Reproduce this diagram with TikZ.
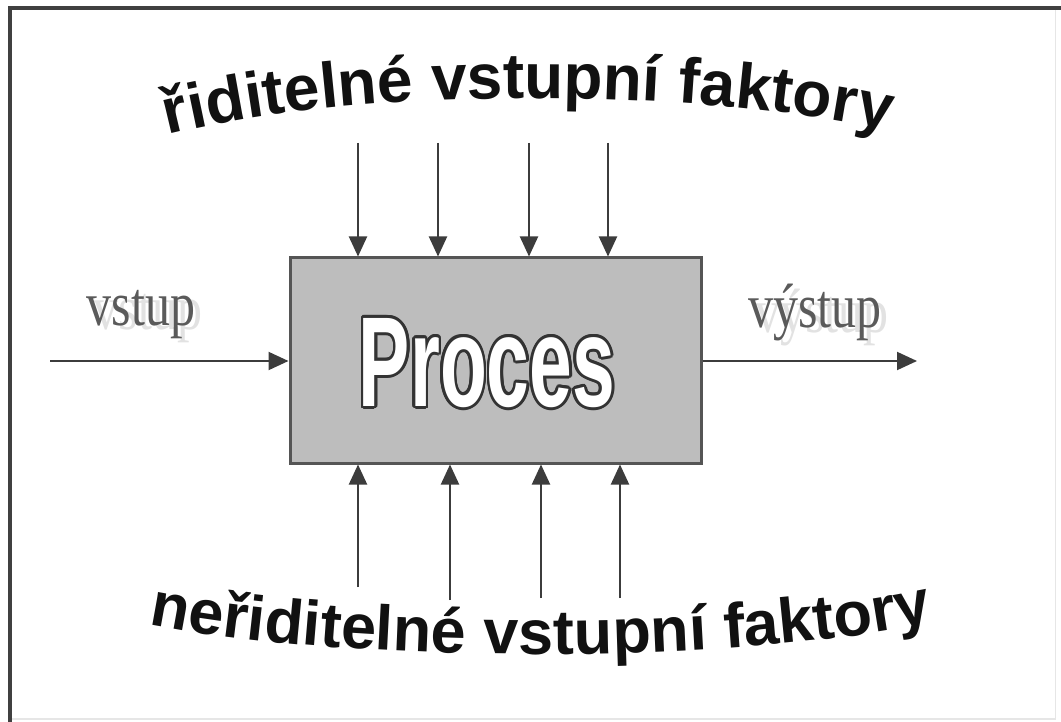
\documentclass[tikz,border=0pt]{standalone}
\usepackage{graphicx}
\usepackage{fontspec}
\setmainfont{Liberation Serif}
\setsansfont{Liberation Sans}
\newfontfamily\procfont[FakeStretch=0.6]{Liberation Sans}
\usetikzlibrary{arrows.meta,decorations.text}
\definecolor{arrowgray}{HTML}{3C3C3C}
\definecolor{boxfill}{HTML}{BDBDBD}
\definecolor{boxline}{HTML}{555555}
\definecolor{outlinegray}{HTML}{333333}
\definecolor{labelgray}{HTML}{5A5A5A}
\definecolor{ghostgray}{HTML}{E2E2E2}
\definecolor{textblack}{HTML}{111111}
\definecolor{framedark}{HTML}{404040}
\definecolor{framelight}{HTML}{E6E6E6}
\newcommand\outlinedtext[1]{%
  \foreach \a in {0,22.5,...,337.5}{%
    \pgfmathsetlengthmacro\odx{2.8pt*cos(\a)}%
    \pgfmathsetlengthmacro\ody{2.8pt*sin(\a)}%
    \rlap{\kern\odx\raisebox{\ody}{\color{outlinegray}#1}}%
  }%
  {\color{white}#1}}
\newcommand\ghosted[1]{\fontsize{50}{50}\selectfont
  \rlap{\kern7pt\raisebox{-5pt}{\color{ghostgray}\scalebox{1}[1.25]{#1}}}%
  {\color{labelgray}\scalebox{1}[1.25]{#1}}}
\newcommand\toptextfont{\sffamily\bfseries\fontsize{64}{64}\selectfont\color{textblack}}
\newcommand\bottextfont{\sffamily\bfseries\fontsize{63}{63}\selectfont\color{textblack}}
\tikzset{
  arr/.style={draw=arrowgray, line width=2pt, -{Triangle[length=20pt,width=18pt]}, arrowgray},
  procbox/.style={draw=boxline, fill=boxfill, line width=3pt, minimum width=411pt, minimum height=205pt, inner sep=0pt},
}
\begin{document}
\begin{tikzpicture}[x=1pt,y=-1pt]
\useasboundingbox (0,0) rectangle (1061,722);
\fill[white] (0,0) rectangle (1061,722);
% frame
\draw[framelight, line width=1.5pt] (1055.5,8) -- (1055.5,719) -- (9,719);
\draw[framedark, line width=4pt] (9.5,722) -- (9.5,8.5) -- (1061,8.5);

% box
\node[procbox] (box) at (495.5,360.5) {};
\node (proc) at (487,363) {\procfont\bfseries\fontsize{128}{128}\selectfont\outlinedtext{Proces}};

% top arrows
\coordinate (t1) at (358,143);
\coordinate (t2) at (438,143);
\coordinate (t3) at (529,143);
\coordinate (t4) at (608,143);
\foreach \c in {t1,t2,t3,t4} \draw[arr] (\c) -- (\c |- box.north);

% bottom arrows
\coordinate (b1) at (358,587);
\coordinate (b2) at (450,600);
\coordinate (b3) at (541,598);
\coordinate (b4) at (620,598);
\foreach \c in {b1,b2,b3,b4} \draw[arr] (\c) -- (\c |- box.south);

% input / output
\coordinate (in) at (50,361);
\coordinate (out) at (917,361);
\draw[arr] (in) -- (in -| box.west);
\draw[arr] (out -| box.east) -- (out);

\node[anchor=base] (lin) at (141,325) {\ghosted{vstup}};
\node[anchor=base] (lout) at (815,327) {\ghosted{výstup}};

% arched texts
\path[decorate, decoration={text along path, text={|\toptextfont|řiditelné vstupní faktory}, text align=center}]
  (136,144) .. controls (326,84) and (716,84) .. (921,138);
\path[decorate, decoration={text along path, text={|\bottextfont|neřiditelné vstupní faktory}, text align=center}]
  (130,620) .. controls (330,666) and (752,666) .. (952,618);
\end{tikzpicture}
\end{document}
